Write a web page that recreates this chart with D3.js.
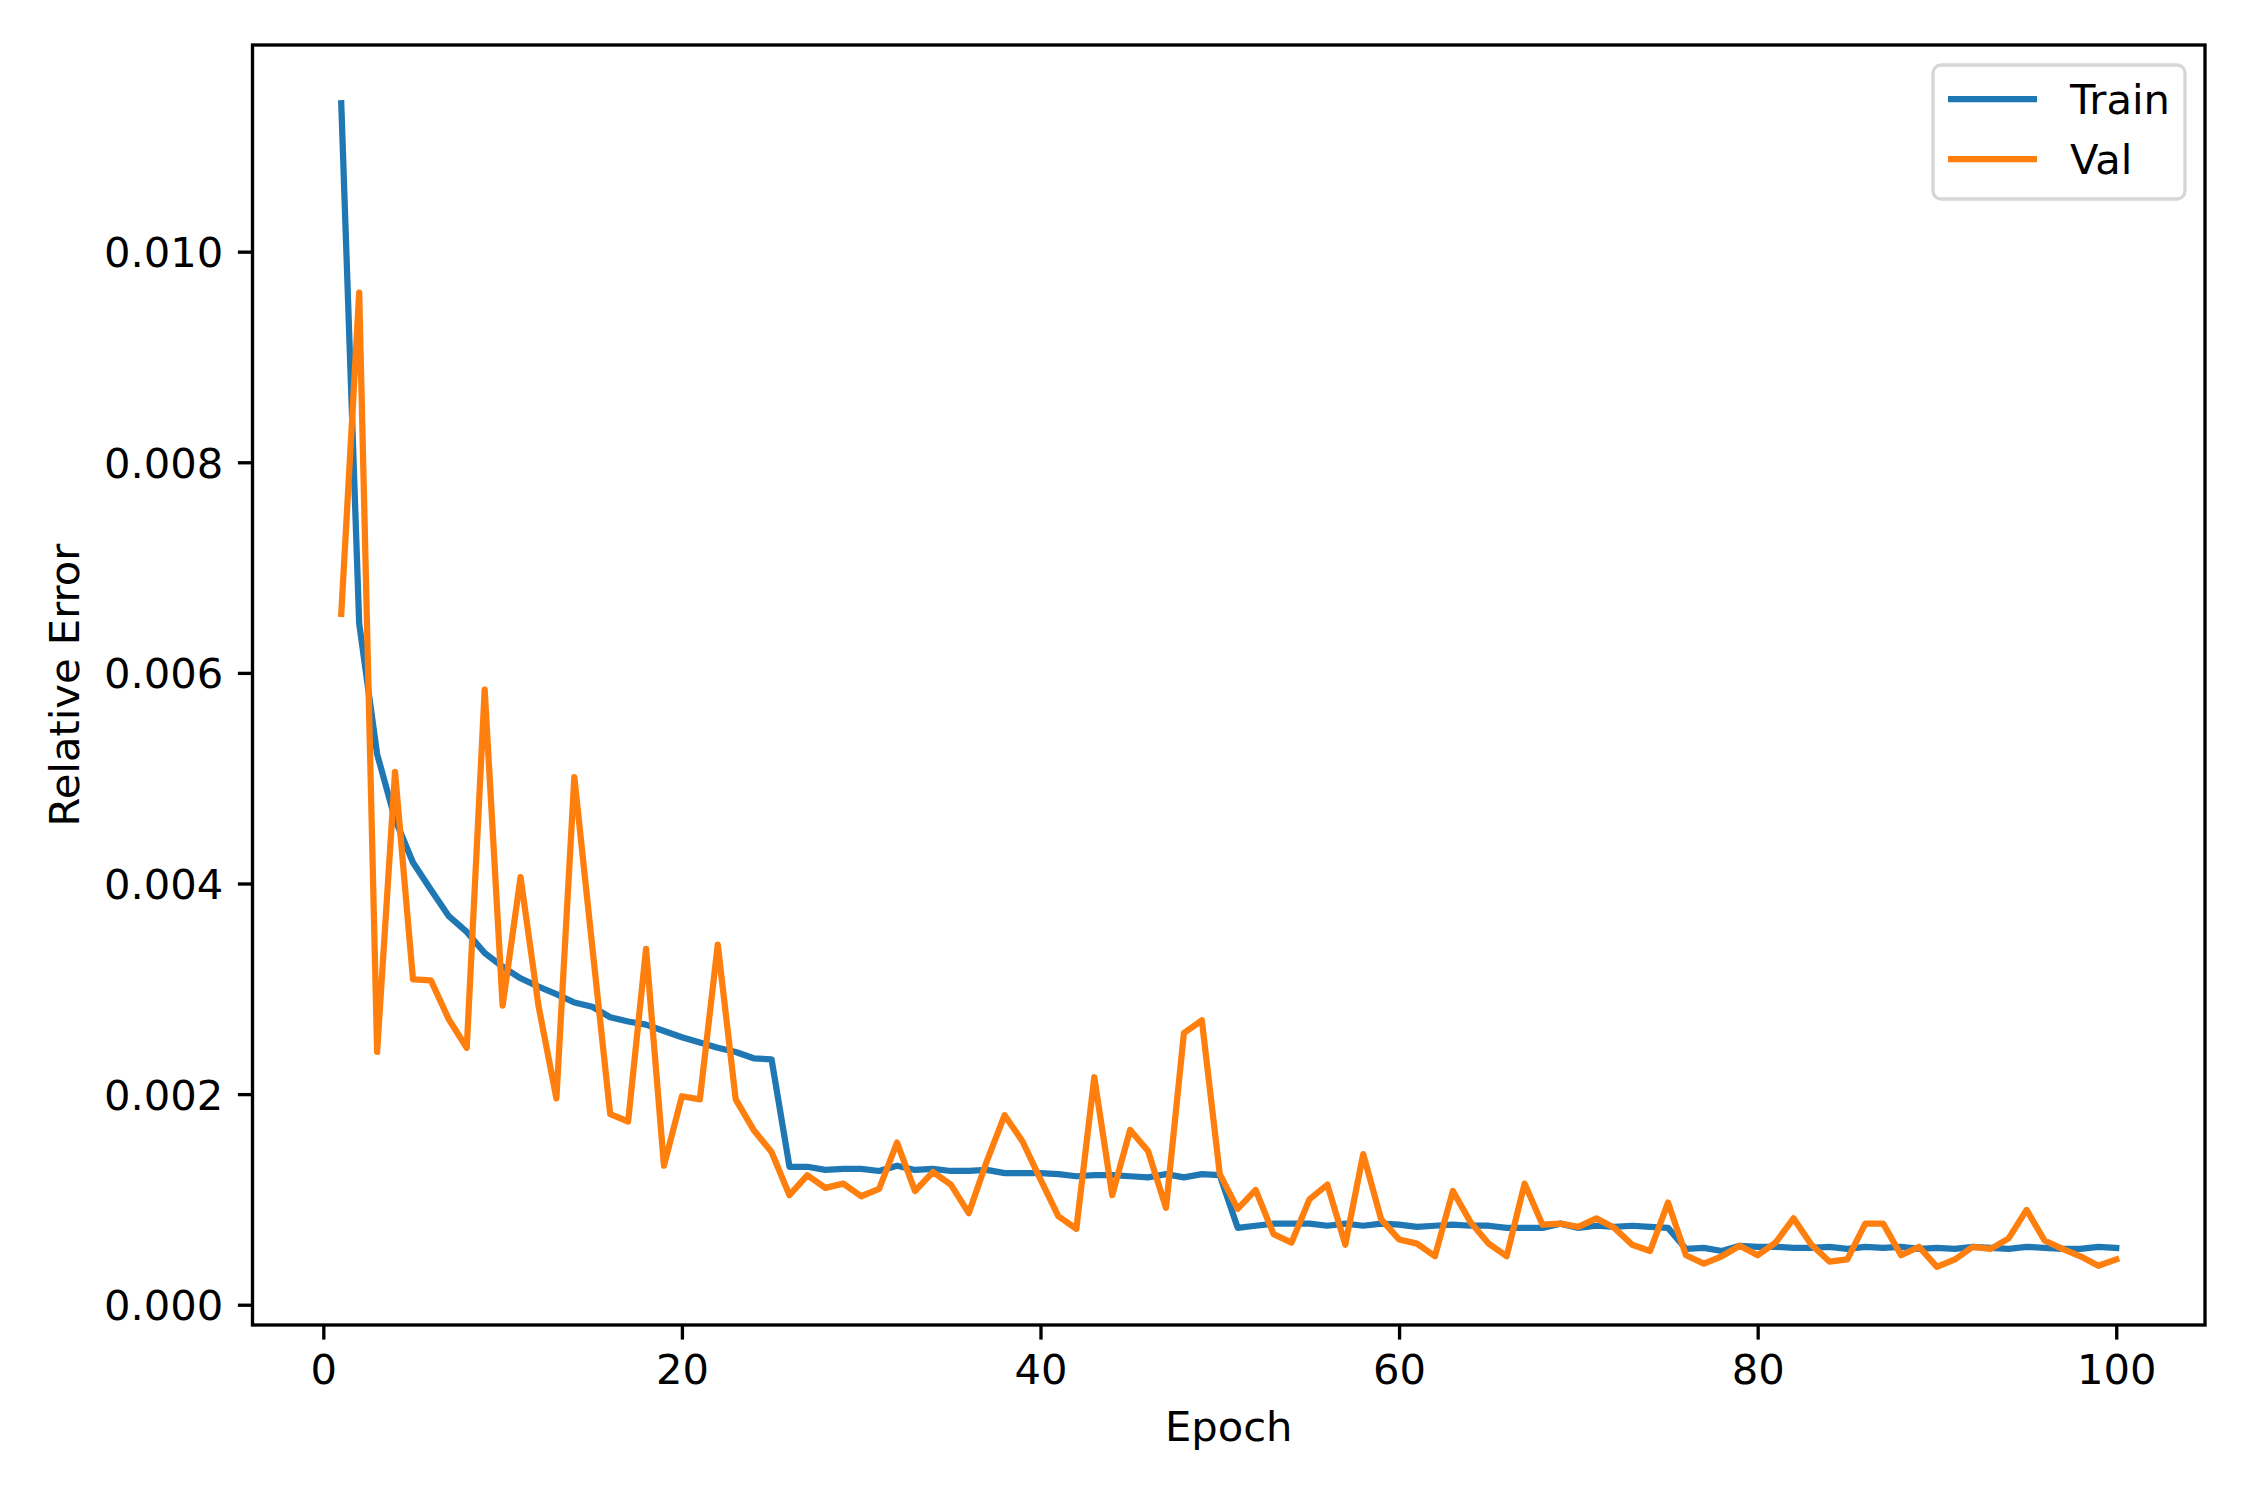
<!DOCTYPE html>
<html lang="en">
<head>
  <meta charset="UTF-8">
  <title>Relative Error</title>
  <script src="https://d3js.org/d3.v7.min.js"></script>
  <style>
    body { margin: 0; background: #fff; }
    text { font-family: "DejaVu Sans", sans-serif; fill: #000; }
  </style>
</head>
<body>
<svg width="2250" height="1500"></svg>
<script>
// epochs 1..100
var epochs = d3.range(1, 101);

var train = [
  0.01141, 0.00647, 0.00523, 0.00461, 0.00420, 0.00394, 0.00369, 0.00354, 0.00334, 0.00321,
  0.00310, 0.00302, 0.00295, 0.00287, 0.00283, 0.00273, 0.00269, 0.00266, 0.00260, 0.00254,
  0.00249, 0.00244, 0.00240, 0.00234, 0.00233, 0.00131, 0.00131, 0.00128, 0.00129, 0.00129,
  0.00127, 0.00132, 0.00128, 0.00129, 0.00127, 0.00127, 0.00128, 0.00125, 0.00125, 0.00125,
  0.00124, 0.00122, 0.00123, 0.00123, 0.00122, 0.00121, 0.00124, 0.00121, 0.00124, 0.00123,
  0.00073, 0.00075, 0.00077, 0.00077, 0.00077, 0.00075, 0.00077, 0.00075, 0.00077, 0.00076,
  0.00074, 0.00075, 0.00076, 0.00075, 0.00075, 0.00073, 0.00073, 0.00073, 0.00077, 0.00073,
  0.00075, 0.00074, 0.00075, 0.00074, 0.00073, 0.00053, 0.00054, 0.00051, 0.00056, 0.00055,
  0.00055, 0.00054, 0.00054, 0.00055, 0.00053, 0.00055, 0.00054, 0.00055, 0.00053, 0.00054,
  0.00053, 0.00055, 0.00054, 0.00053, 0.00055, 0.00054, 0.00053, 0.00053, 0.00055, 0.00054
];

var val = [
  0.00656, 0.00961, 0.00240, 0.00506, 0.00309, 0.00308, 0.00271, 0.00244, 0.00584, 0.00284,
  0.00406, 0.00284, 0.00196, 0.00501, 0.00340, 0.00181, 0.00174, 0.00338, 0.00132, 0.00198,
  0.00195, 0.00342, 0.00195, 0.00166, 0.00145, 0.00104, 0.00123, 0.00111, 0.00115, 0.00103,
  0.00110, 0.00154, 0.00108, 0.00126, 0.00114, 0.00087, 0.00136, 0.00180, 0.00155, 0.00119,
  0.00084, 0.00072, 0.00216, 0.00104, 0.00166, 0.00146, 0.00092, 0.00258, 0.00270, 0.00124,
  0.00091, 0.00109, 0.00067, 0.00059, 0.00100, 0.00114, 0.00057, 0.00143, 0.00081, 0.00062,
  0.00058, 0.00046, 0.00108, 0.00078, 0.00058, 0.00046, 0.00115, 0.00076, 0.00077, 0.00074,
  0.00082, 0.00073, 0.00057, 0.00051, 0.00097, 0.00047, 0.00039, 0.00046, 0.00056, 0.00047,
  0.00059, 0.00082, 0.00057, 0.00041, 0.00043, 0.00077, 0.00077, 0.00047, 0.00055, 0.00036,
  0.00043, 0.00055, 0.00053, 0.00063, 0.00090, 0.00061, 0.00053, 0.00046, 0.00037, 0.00043
];

var xTicks = [0, 20, 40, 60, 80, 100];
var yTicks = [0, 0.002, 0.004, 0.006, 0.008, 0.010];
var seriesNames = ["Train", "Val"];
var colors = ["#1f77b4", "#ff7f0e"];

var svg = d3.select("svg");
var margin = {top: 45, right: 45, bottom: 175, left: 252.5};
var width = 2250 - margin.left - margin.right,
    height = 1500 - margin.top - margin.bottom;

// matplotlib style 5% margins around the data
function pad(ext) {
  var d = (ext[1] - ext[0]) * 0.05;
  return [ext[0] - d, ext[1] + d];
}

var x = d3.scaleLinear().domain(pad(d3.extent(epochs))).range([0, width]);
var y = d3.scaleLinear().domain(pad(d3.extent(train.concat(val)))).range([height, 0]);

var g = svg.append("g")
  .attr("transform", "translate(" + margin.left + "," + margin.top + ")");

var fs = 41.67, tickLen = 14.6, lw = 3.33;

// x axis
var xa = g.append("g")
  .attr("transform", "translate(0," + height + ")")
  .call(d3.axisBottom(x).tickValues(xTicks).tickSize(tickLen).tickPadding(tickLen).tickFormat(d3.format("d")));
// y axis
var ya = g.append("g")
  .call(d3.axisLeft(y).tickValues(yTicks).tickSize(tickLen).tickPadding(tickLen).tickFormat(d3.format(".3f")));

[xa, ya].forEach(function(a) {
  a.select(".domain").remove();
  a.selectAll(".tick line").attr("stroke", "#000").attr("stroke-width", lw);
  a.selectAll(".tick text").attr("font-size", fs).attr("font-family", "DejaVu Sans").attr("fill", "#000");
});
xa.selectAll(".tick text").attr("dy", "0.71em");
ya.selectAll(".tick text").attr("dy", "0.36em");

// lines
var line = d3.line()
  .x(function(d, i) { return x(epochs[i]); })
  .y(function(d) { return y(d); });

[train, val].forEach(function(s, i) {
  g.append("path")
    .datum(s)
    .attr("d", line)
    .attr("fill", "none")
    .attr("stroke", colors[i])
    .attr("stroke-width", 6.25)
    .attr("stroke-linejoin", "round")
    .attr("stroke-linecap", "square");
});

// frame
g.append("rect")
  .attr("width", width).attr("height", height)
  .attr("fill", "none").attr("stroke", "#000").attr("stroke-width", lw);

// axis labels
g.append("text")
  .attr("x", width / 2).attr("y", height + 116)
  .attr("text-anchor", "middle").attr("font-size", fs)
  .text("Epoch");

svg.append("text")
  .attr("transform", "translate(79," + (margin.top + height / 2) + ") rotate(-90)")
  .attr("text-anchor", "middle").attr("font-size", fs)
  .text("Relative Error");

// legend
var lg = svg.append("g");
lg.append("rect")
  .attr("x", 1933).attr("y", 65).attr("width", 252).attr("height", 134)
  .attr("rx", 8).attr("ry", 8)
  .attr("fill", "#fff").attr("fill-opacity", 0.8)
  .attr("stroke", "#d6d6d6").attr("stroke-width", 3.33);

seriesNames.forEach(function(n, i) {
  var yy = 99 + i * 60;
  lg.append("line")
    .attr("x1", 1948).attr("x2", 2037).attr("y1", yy).attr("y2", yy)
    .attr("stroke", colors[i]).attr("stroke-width", 6.25);
  lg.append("text")
    .attr("x", 2070).attr("y", yy + 15)
    .attr("font-size", fs)
    .text(n);
});
</script>
</body>
</html>
